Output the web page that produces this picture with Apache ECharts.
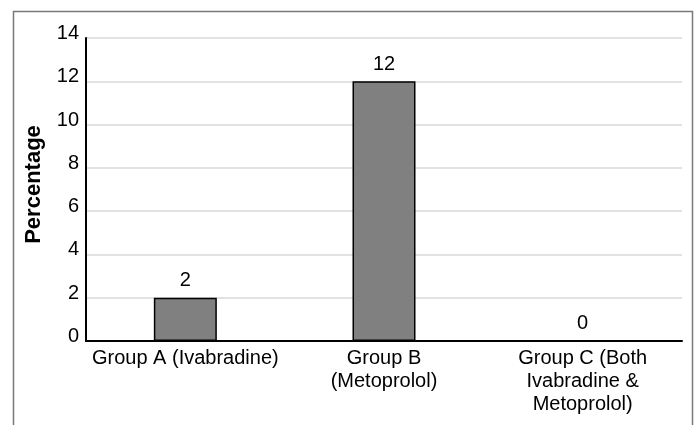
<!DOCTYPE html>
<html>
<head>
<meta charset="utf-8">
<script src="https://cdn.jsdelivr.net/npm/echarts@6/dist/echarts.min.js"></script>
<style>
html,body{margin:0;padding:0;background:#fff;}
#c{width:696px;height:425px;}
</style>
</head>
<body>
<div id="c"></div>
<script>
var categories = ["Group A (Ivabradine)", "Group B\n(Metoprolol)", "Group C (Both\nIvabradine &\nMetoprolol)"];
var values = [2, 12, 0];
var yTicks = [0, 2, 4, 6, 8, 10, 12, 14];

var FONT = "'Liberation Sans', Arial, sans-serif";
var chart = echarts.init(document.getElementById('c'), null, {renderer: 'canvas'});
chart.setOption({
  animation: false,
  backgroundColor: '#fff',
  graphic: [{
    type: 'rect',
    shape: {x: 13.5, y: 11.5, width: 679, height: 500},
    style: {fill: 'none', stroke: '#7a7a7a', lineWidth: 1.5},
    silent: true
  }],
  grid: {left: 86, right: 14, top: 38, bottom: 84, containLabel: false},
  xAxis: {
    type: 'category',
    data: categories,
    axisLine: {show: true, lineStyle: {color: '#000', width: 2}},
    axisTick: {show: false},
    axisLabel: {
      interval: 0, color: '#000', fontFamily: FONT, fontSize: 20,
      lineHeight: 23, margin: 6, align: 'center'
    },
    splitLine: {show: false}
  },
  yAxis: {
    type: 'value',
    min: yTicks[0],
    max: yTicks[yTicks.length - 1],
    interval: 2,
    name: 'Percentage',
    nameLocation: 'middle',
    nameGap: 41,
    nameTextStyle: {color: '#000', fontFamily: FONT, fontSize: 22, fontWeight: 'bold', padding: [0, 0, 0, 10]},
    axisLine: {show: true, lineStyle: {color: '#000', width: 2}},
    axisTick: {show: false},
    axisLabel: {
      color: '#000', fontFamily: FONT, fontSize: 20, margin: 7,
      formatter: '{a|{value}}',
      rich: {a: {fontFamily: FONT, fontSize: 20, color: '#000', padding: [0, 0, 9, 0]}}
    },
    splitLine: {show: true, lineStyle: {color: '#d9d9d9', width: 1.5}}
  },
  series: [{
    type: 'bar',
    data: values,
    barWidth: 63,
    itemStyle: {color: '#808080', borderColor: '#000', borderWidth: 1.5},
    label: {
      show: true, position: 'top', distance: 7,
      color: '#000', fontFamily: FONT, fontSize: 20
    }
  }]
});
</script>
</body>
</html>
